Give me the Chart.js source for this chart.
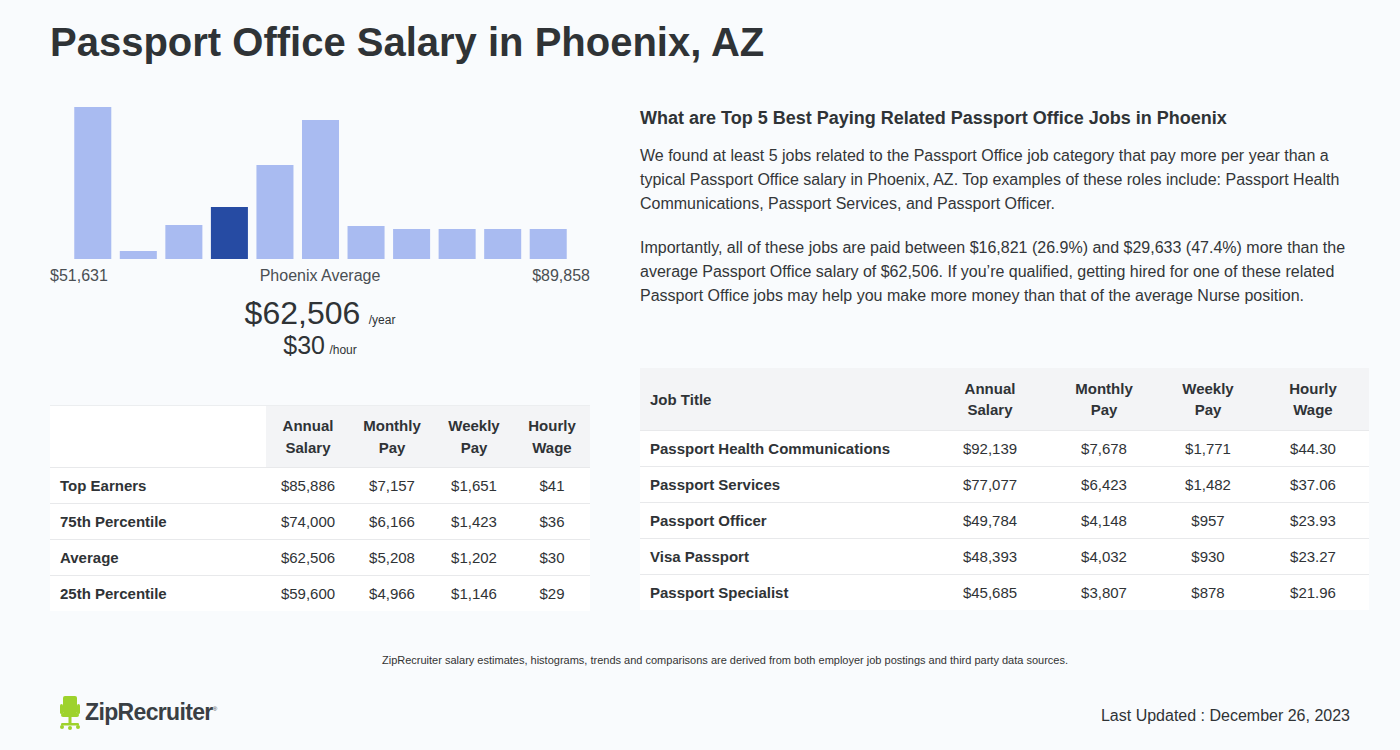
<!DOCTYPE html>
<html>
<head>
<meta charset="utf-8">
<script src="https://cdn.jsdelivr.net/npm/chart.js@4.4.0/dist/chart.umd.min.js"></script>
<style>
  html, body { margin:0; padding:0; }
  body { width:1400px; height:750px; background:#f9fbfd; font-family:"Liberation Sans", Arial, sans-serif; color:#2f3336; position:relative; overflow:hidden; }
  .abs { position:absolute; }
  h1 { position:absolute; left:50px; top:20px; margin:0; font-size:40px; font-weight:bold; color:#2f3336; }
  #histWrap { position:absolute; left:70px; top:107px; width:501px; height:152px; }
  .lbl { position:absolute; top:267px; font-size:16px; color:#4a4f53; }
  table { border-collapse:collapse; position:absolute; font-size:15px; }
  td, th { padding:0; }
  #lt { left:50px; top:405px; width:540px; }
  #lt th { height:61px; font-weight:bold; line-height:22px; background:#f3f4f6; border-top:1px solid #eceef0; }
  #lt th.blank { background:#ffffff; width:216px; }
  #lt td { height:35px; border-top:1px solid #e8e9eb; background:#fff; text-align:center; color:#2f3336; }
  #lt td.n { text-align:left; padding-left:10px; font-weight:bold; }
  #rt { left:640px; top:368px; width:729px; }
  #rt th { height:62px; font-weight:bold; line-height:21px; background:#f3f4f6; }
  #rt th.jt { text-align:left; padding-left:10px; width:281px; }
  #rt td { height:35px; border-top:1px solid #e8e9eb; background:#fff; text-align:center; }
  #rt td.n { text-align:left; padding-left:10px; font-weight:bold; }
  .para { position:absolute; left:640px; width:720px; font-size:16px; line-height:24px; color:#333638; margin:0; }
</style>
</head>
<body>
<h1>Passport Office Salary in Phoenix, AZ</h1>

<div id="histWrap"><canvas id="hist"></canvas></div>
<div class="lbl" style="left:50px;">$51,631</div>
<div class="lbl" style="left:220px;width:200px;text-align:center;">Phoenix Average</div>
<div class="lbl" style="right:810px;">$89,858</div>

<div class="abs" style="left:120px;width:400px;top:295px;text-align:center;white-space:nowrap;">
  <span style="font-size:32px;color:#2f3336;">$62,506</span>&nbsp;<span style="font-size:12px;margin-left:4px;">/year</span>
</div>
<div class="abs" style="left:120px;width:400px;top:331px;text-align:center;white-space:nowrap;">
  <span style="font-size:25px;color:#2f3336;">$30</span>&nbsp;<span style="font-size:12px;">/hour</span>
</div>

<table id="lt"></table>

<div class="abs" style="left:640px;top:108px;font-size:18px;font-weight:bold;color:#2f3336;">What are Top 5 Best Paying Related Passport Office Jobs in Phoenix</div>
<p class="para" style="top:144px;">We found at least 5 jobs related to the Passport Office job category that pay more per year than a typical Passport Office salary in Phoenix, AZ. Top examples of these roles include: Passport Health Communications, Passport Services, and Passport Officer.</p>
<p class="para" style="top:236px;">Importantly, all of these jobs are paid between $16,821 (26.9%) and $29,633 (47.4%) more than the average Passport Office salary of $62,506. If you’re qualified, getting hired for one of these related Passport Office jobs may help you make more money than that of the average Nurse position.</p>

<table id="rt"></table>

<div class="abs" style="left:0;width:1450px;top:654px;text-align:center;font-size:11px;color:#333;">ZipRecruiter salary estimates, histograms, trends and comparisons are derived from both employer job postings and third party data sources.</div>

<div class="abs" style="left:58px;top:695px;">
  <svg width="24" height="36" viewBox="0 0 24 36">
    <rect x="5" y="1" width="14" height="18" rx="2" fill="#9ed22c"/>
    <rect x="2" y="9" width="3" height="10" rx="1.5" fill="#9ed22c"/>
    <rect x="19" y="9" width="3" height="10" rx="1.5" fill="#9ed22c"/>
    <rect x="3" y="18" width="18" height="4" rx="2" fill="#9ed22c"/>
    <rect x="10.5" y="21" width="3" height="9" fill="#9ed22c"/>
    <rect x="3" y="28" width="18" height="2.5" rx="1.2" fill="#9ed22c"/>
    <circle cx="4" cy="32" r="2" fill="#9ed22c"/><circle cx="20" cy="32" r="2" fill="#9ed22c"/><circle cx="12" cy="33" r="2" fill="#9ed22c"/>
  </svg>
</div>
<div class="abs" style="left:85px;top:699px;font-size:23px;font-weight:bold;color:#3a3f44;letter-spacing:-0.65px;">ZipRecruiter<sup style="font-size:6px;font-weight:normal;">®</sup></div>

<div class="abs" style="right:50px;top:707px;font-size:16px;color:#2f3336;">Last Updated : December 26, 2023</div>

<script>
// Histogram (relative bar heights)
const histBins = ["b1","b2","b3","b4","b5","b6","b7","b8","b9","b10","b11"];
const histValues = [152, 8, 34, 52, 94, 139, 33, 30, 30, 30, 30];
const highlightBin = 3;

// Left table
const leftCols = ["Annual<br>Salary","Monthly<br>Pay","Weekly<br>Pay","Hourly<br>Wage"];
const leftRows = ["Top Earners","75th Percentile","Average","25th Percentile"];
const leftAnnual = ["$85,886","$74,000","$62,506","$59,600"];
const leftMonthly = ["$7,157","$6,166","$5,208","$4,966"];
const leftWeekly = ["$1,651","$1,423","$1,202","$1,146"];
const leftHourly = ["$41","$36","$30","$29"];

// Right table
const jobTitles = ["Passport Health Communications","Passport Services","Passport Officer","Visa Passport","Passport Specialist"];
const jobAnnual = ["$92,139","$77,077","$49,784","$48,393","$45,685"];
const jobMonthly = ["$7,678","$6,423","$4,148","$4,032","$3,807"];
const jobWeekly = ["$1,771","$1,482","$957","$930","$878"];
const jobHourly = ["$44.30","$37.06","$23.93","$23.27","$21.96"];

// build left table
(function(){
  const t = document.getElementById('lt');
  let h = '<tr><th class="blank"></th>';
  const w = [84,84,80,76];
  leftCols.forEach((c,i)=>{ h += '<th style="width:'+w[i]+'px">'+c+'</th>'; });
  h += '</tr>';
  leftRows.forEach((r,i)=>{
    h += '<tr><td class="n">'+r+'</td><td>'+leftAnnual[i]+'</td><td>'+leftMonthly[i]+'</td><td>'+leftWeekly[i]+'</td><td>'+leftHourly[i]+'</td></tr>';
  });
  t.innerHTML = h;
})();
// build right table
(function(){
  const t = document.getElementById('rt');
  let h = '<tr><th class="jt">Job Title</th>';
  const w = [118,110,98,112];
  leftCols.forEach((c,i)=>{ h += '<th style="width:'+w[i]+'px">'+c+'</th>'; });
  h += '</tr>';
  jobTitles.forEach((r,i)=>{
    h += '<tr><td class="n">'+r+'</td><td>'+jobAnnual[i]+'</td><td>'+jobMonthly[i]+'</td><td>'+jobWeekly[i]+'</td><td>'+jobHourly[i]+'</td></tr>';
  });
  t.innerHTML = h;
})();

new Chart(document.getElementById('hist'), {
  type: 'bar',
  data: {
    labels: histBins,
    datasets: [{
      data: histValues,
      backgroundColor: histValues.map((v,i)=> i===highlightBin ? '#264ba3' : '#a9bbf1'),
      borderWidth: 0,
      categoryPercentage: 1.0,
      barPercentage: 0.813
    }]
  },
  options: {
    responsive: true,
    maintainAspectRatio: false,
    animation: false,
    layout: { padding: 0 },
    plugins: { legend: { display:false }, tooltip: { enabled:false } },
    scales: {
      x: { display:false },
      y: { display:false, min:0, max:152 }
    }
  }
});
</script>
</body>
</html>
